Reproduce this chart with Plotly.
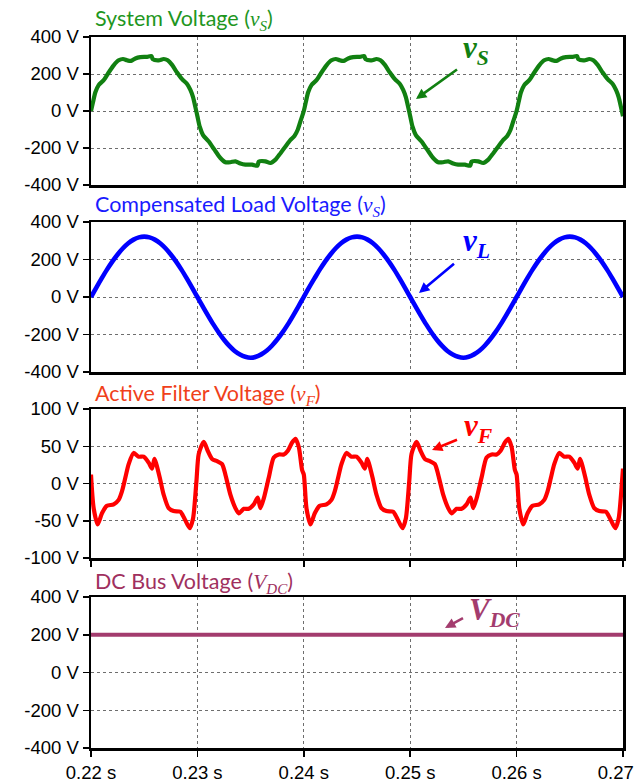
import plotly.graph_objects as go

# ---------------- data ----------------
X_TICKS = [0.22, 0.23, 0.24, 0.25, 0.26, 0.27]
X_TICK_TEXT = ["0.22 s", "0.23 s", "0.24 s", "0.25 s", "0.26 s", "0.27 s"]
Y_TICKS_400 = [-400, -200, 0, 200, 400]
Y_TEXT_400 = ["-400 V", "-200 V", "0 V", "200 V", "400 V"]
Y_TICKS_100 = [-100, -50, 0, 50, 100]
Y_TEXT_100 = ["-100 V", "-50 V", "0 V", "50 V", "100 V"]

T_VS = [0.22000, 0.22019, 0.22041, 0.22072, 0.22119, 0.22166, 0.22213, 0.22260, 0.22301, 0.22339,
        0.22376, 0.22417, 0.22464, 0.22527, 0.22568, 0.22580, 0.22636, 0.22683, 0.22721, 0.22762,
        0.22809, 0.22856, 0.22903, 0.22934, 0.22959, 0.22981, 0.23000, 0.23022, 0.23053, 0.23107,
        0.23160, 0.23216, 0.23263, 0.23310, 0.23357, 0.23404, 0.23451, 0.23514, 0.23564, 0.23576,
        0.23639, 0.23686, 0.23734, 0.23781, 0.23828, 0.23875, 0.23912, 0.23944, 0.23969,
        0.24000, 0.24019, 0.24041, 0.24072, 0.24119, 0.24166, 0.24213, 0.24260, 0.24301, 0.24339,
        0.24376, 0.24417, 0.24464, 0.24527, 0.24568, 0.24580, 0.24636, 0.24683, 0.24721, 0.24762,
        0.24809, 0.24856, 0.24903, 0.24934, 0.24959, 0.24981, 0.25000, 0.25022, 0.25053, 0.25107,
        0.25160, 0.25216, 0.25263, 0.25310, 0.25357, 0.25404, 0.25451, 0.25514, 0.25564, 0.25576,
        0.25639, 0.25686, 0.25734, 0.25781, 0.25828, 0.25875, 0.25912, 0.25944, 0.25969,
        0.26000, 0.26019, 0.26041, 0.26072, 0.26119, 0.26166, 0.26213, 0.26260, 0.26301, 0.26339,
        0.26376, 0.26417, 0.26464, 0.26527, 0.26568, 0.26580, 0.26636, 0.26683, 0.26721, 0.26762,
        0.26809, 0.26856, 0.26903, 0.26934, 0.26959, 0.26981, 0.27000]
V_S = [0, 48, 101, 140, 167, 208, 247, 274, 281, 274,
       271, 284, 291, 293, 297, 280, 274, 281, 274, 249,
       208, 172, 146, 114, 75, 21, -28, -85, -130, -165,
       -209, -254, -277, -277, -272, -284, -290, -290, -296, -274,
       -272, -281, -263, -228, -192, -156, -135, -100, -55,
       0, 48, 101, 140, 167, 208, 247, 274, 281, 274,
       271, 284, 291, 293, 297, 280, 274, 281, 274, 249,
       208, 172, 146, 114, 75, 21, -28, -85, -130, -165,
       -209, -254, -277, -277, -272, -284, -290, -290, -296, -274,
       -272, -281, -263, -228, -192, -156, -135, -100, -55,
       0, 48, 101, 140, 167, 208, 247, 274, 281, 274,
       271, 284, 291, 293, 297, 280, 274, 281, 274, 249,
       208, 172, 146, 114, 75, 21, -28]

T_VL = [0.2200, 0.2205, 0.2210, 0.2215, 0.2220, 0.2225, 0.2230, 0.2235, 0.2240, 0.2245,
        0.2250, 0.2255, 0.2260, 0.2265, 0.2270, 0.2275, 0.2280, 0.2285, 0.2290, 0.2295,
        0.2300, 0.2305, 0.2310, 0.2315, 0.2320, 0.2325, 0.2330, 0.2335, 0.2340, 0.2345,
        0.2350, 0.2355, 0.2360, 0.2365, 0.2370, 0.2375, 0.2380, 0.2385, 0.2390, 0.2395,
        0.2400, 0.2405, 0.2410, 0.2415, 0.2420, 0.2425, 0.2430, 0.2435, 0.2440, 0.2445,
        0.2450, 0.2455, 0.2460, 0.2465, 0.2470, 0.2475, 0.2480, 0.2485, 0.2490, 0.2495,
        0.2500, 0.2505, 0.2510, 0.2515, 0.2520, 0.2525, 0.2530, 0.2535, 0.2540, 0.2545,
        0.2550, 0.2555, 0.2560, 0.2565, 0.2570, 0.2575, 0.2580, 0.2585, 0.2590, 0.2595,
        0.2600, 0.2605, 0.2610, 0.2615, 0.2620, 0.2625, 0.2630, 0.2635, 0.2640, 0.2645,
        0.2650, 0.2655, 0.2660, 0.2665, 0.2670, 0.2675, 0.2680, 0.2685, 0.2690, 0.2695,
        0.2700]
V_L = [0, 50, 99, 146, 189, 227, 260, 287, 306, 318,
       322, 318, 306, 287, 260, 227, 189, 146, 99, 50,
       0, -50, -99, -146, -189, -228, -261, -288, -307, -319,
       -324, -319, -306, -287, -260, -227, -189, -146, -99, -50,
       1, 51, 99, 146, 189, 227, 260, 287, 306, 318,
       322, 318, 306, 287, 260, 227, 189, 146, 99, 50,
       0, -50, -99, -146, -189, -228, -261, -288, -307, -319,
       -324, -319, -306, -287, -260, -227, -189, -146, -99, -50,
       0, 50, 99, 146, 189, 227, 260, 287, 306, 318,
       322, 318, 306, 287, 260, 227, 189, 146, 99, 50,
       0]

T_VF = [0.22000, 0.22025, 0.22063, 0.22103, 0.22150, 0.22213, 0.22260, 0.22292, 0.22323, 0.22354,
        0.22401, 0.22448, 0.22495, 0.22542, 0.22574, 0.22596, 0.22614, 0.22646, 0.22683, 0.22730,
        0.22777, 0.22840, 0.22878, 0.22928, 0.22959, 0.22991, 0.23013, 0.23060, 0.23097, 0.23138,
        0.23185, 0.23232, 0.23263, 0.23310, 0.23357, 0.23389, 0.23436, 0.23483, 0.23530, 0.23567,
        0.23592, 0.23624, 0.23671, 0.23718, 0.23765, 0.23812, 0.23850, 0.23890, 0.23922, 0.23953,
        0.23984,
        0.24000, 0.24025, 0.24063, 0.24103, 0.24150, 0.24213, 0.24260, 0.24292, 0.24323, 0.24354,
        0.24401, 0.24448, 0.24495, 0.24542, 0.24574, 0.24596, 0.24614, 0.24646, 0.24683, 0.24730,
        0.24777, 0.24840, 0.24878, 0.24928, 0.24959, 0.24991, 0.25013, 0.25060, 0.25097, 0.25138,
        0.25185, 0.25232, 0.25263, 0.25310, 0.25357, 0.25389, 0.25436, 0.25483, 0.25530, 0.25567,
        0.25592, 0.25624, 0.25671, 0.25718, 0.25765, 0.25812, 0.25850, 0.25890, 0.25922, 0.25953,
        0.25984,
        0.26000, 0.26025, 0.26063, 0.26103, 0.26150, 0.26213, 0.26260, 0.26292, 0.26323, 0.26354,
        0.26401, 0.26448, 0.26495, 0.26542, 0.26574, 0.26596, 0.26614, 0.26646, 0.26683, 0.26730,
        0.26777, 0.26840, 0.26878, 0.26928, 0.26959, 0.26991, 0.27000]
V_F = [12, -33, -55, -40, -30, -28, -22, -10, 8, 26,
       41, 36, 36, 28, 20, 33, 26, 8, -15, -33,
       -37, -38, -47, -60, -47, 3, 40, 56, 44, 33,
       30, 26, 12, -15, -33, -40, -34, -34, -28, -19,
       -33, -20, 8, 35, 39, 39, 44, 55, 60, 49,
       18,
       12, -33, -55, -40, -30, -28, -22, -10, 8, 26,
       41, 36, 36, 28, 20, 33, 26, 8, -15, -33,
       -37, -38, -47, -60, -47, 3, 40, 56, 44, 33,
       30, 26, 12, -15, -33, -40, -34, -34, -28, -19,
       -33, -20, 8, 35, 39, 39, 44, 55, 60, 49,
       18,
       12, -33, -55, -40, -30, -28, -22, -10, 8, 26,
       41, 36, 36, 28, 20, 33, 26, 8, -15, -33,
       -37, -38, -47, -60, -47, 3, 20]

T_DC = [0.22, 0.23, 0.24, 0.25, 0.26, 0.27]
V_DC = [200, 200, 200, 200, 200, 200]

# ---------------- styling ----------------
GREEN, GREEN_T = "#118011", "#1e961e"
BLUE, BLUE_T = "#0000ff", "#1a1aff"
RED, RED_T = "#ff0000", "#f0401a"
PURP, PURP_T = "#a33c6e", "#a0305e"

W, H = 635, 783
ML, MR, MT, MB = 91, 12, 37, 35
PW, PH = W - ML - MR, H - MT - MB


def px(xp, yp):
    """reference-picture pixel -> paper fraction"""
    return (xp - ML) / PW, (H - MB - yp) / PH


def dom(top, bottom):
    return [px(ML, bottom)[1], px(ML, top)[1]]


domains = [dom(37, 185), dom(222, 372), dom(409, 558), dom(597, 748)]

fig = go.Figure()
series = [(T_VS, V_S, GREEN, 4.2, 0.7), (T_VL, V_L, BLUE, 4.6, 1.0),
          (T_VF, V_F, RED, 4.2, 0.7), (T_DC, V_DC, PURP, 4.2, 0.0)]
for i, (t, v, c, w, sm) in enumerate(series):
    k = "" if i == 0 else str(i + 1)
    fig.add_trace(go.Scatter(x=t, y=v, mode="lines",
                             line=dict(color=c, width=w, shape="spline" if sm else "linear",
                                       smoothing=sm if sm else None),
                             xaxis="x" + k, yaxis="y" + k, showlegend=False,
                             hoverinfo="skip"))

tick_font = dict(family="Liberation Sans, Arial", size=18.5, color="black")
layout = dict(width=W, height=H, margin=dict(l=ML, r=MR, t=MT, b=MB, autoexpand=False),
              paper_bgcolor="white", plot_bgcolor="white", showlegend=False)
for i in range(4):
    k = "" if i == 0 else str(i + 1)
    yt, ytt = (Y_TICKS_100, Y_TEXT_100) if i == 2 else (Y_TICKS_400, Y_TEXT_400)
    yr = [-100, 100] if i == 2 else [-400, 400]
    layout["xaxis" + k] = dict(domain=[0, 1], anchor="y" + k, range=[0.22, 0.27],
                               tickvals=X_TICKS, ticktext=X_TICK_TEXT,
                               showticklabels=(i == 3), tickfont=tick_font,
                               ticklabeloverflow="allow", automargin=False,
                               ticks="outside" if i >= 2 else "", ticklen=6, tickwidth=1.5,
                               tickcolor="black",
                               showgrid=True, gridcolor="#6e6e6e", griddash="dot", gridwidth=1,
                               showline=True, linecolor="black", linewidth=2.5, mirror=True,
                               zeroline=False, fixedrange=True)
    layout["yaxis" + k] = dict(domain=domains[i], anchor="x" + k, range=yr,
                               tickvals=yt, ticktext=ytt, tickfont=tick_font,
                               ticklabeloverflow="allow", automargin=False,
                               ticks="outside", ticklen=6, tickwidth=1.5, tickcolor="black",
                               showgrid=True, gridcolor="#6e6e6e", griddash="dot", gridwidth=1,
                               showline=True, linecolor="black", linewidth=2.5, mirror=True,
                               zeroline=False, fixedrange=True)
fig.update_layout(**layout)

SERIF = "Liberation Serif, Times New Roman"
titles = [
    ("System Voltage (", "v", "S", GREEN_T, 19),
    ("Compensated Load Voltage (", "v", "S", BLUE_T, 206),
    ("Active Filter Voltage (", "v", "F", RED_T, 395),
    ("DC Bus Voltage (", "V", "DC", PURP_T, 582),
]
for pre, var, sub, col, ypx in titles:
    x0, y0 = px(93, ypx)
    fig.add_annotation(xref="paper", yref="paper", x=x0, y=y0, xanchor="left", yanchor="middle",
                       showarrow=False,
                       text=f"{pre}<span style='font-family:{SERIF}'><i>{var}<sub>{sub}</sub></i></span>)",
                       font=dict(family="Lato", size=21.5, color=col))

# big labels with arrows
labels = [
    ("v", "S", GREEN, (461, 50), (416, 99), (43, -31)),
    ("v", "L", BLUE, (461, 243), (419, 293), (37, -31)),
    ("v", "F", RED, (462, 428), (432, 450), (27, -11)),
    ("V", "DC", PURP, (467, 612), (445, 628), (20, -11)),
]
for var, sub, col, tpos, head, off in labels:
    tx, ty = px(*tpos)
    fig.add_annotation(xref="paper", yref="paper", x=tx, y=ty, xanchor="left", yanchor="middle",
                       showarrow=False,
                       text=f"<b><i>{var}<sub>{sub}</sub></i></b>",
                       font=dict(family=SERIF, size=31, color=col))
    hx, hy = px(*head)
    fig.add_annotation(xref="paper", yref="paper", x=hx, y=hy, ax=off[0], ay=off[1],
                       text=" ", font=dict(size=4), showarrow=True,
                       arrowhead=2, arrowsize=0.8, arrowwidth=2.6, arrowcolor=col, standoff=0)

# remove the browser's default 8px page margin so the figure sits at the window's corner
fig.write_html("out.html", config={"displayModeBar": False, "staticPlot": True},
               post_script="document.body.style.margin='0';")
